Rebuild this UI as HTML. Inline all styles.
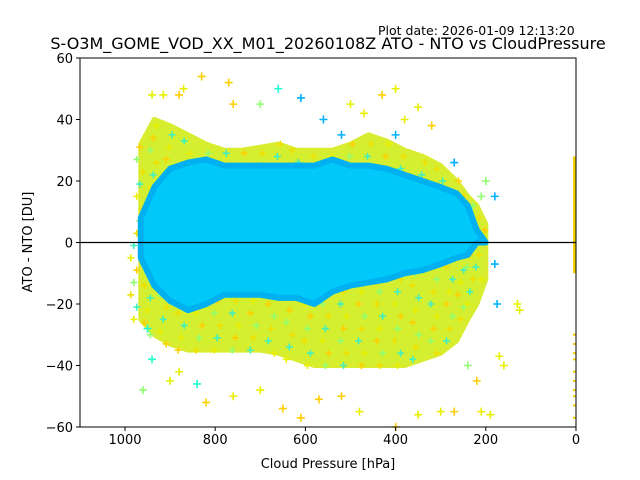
<!DOCTYPE html>
<html><head><meta charset="utf-8"><style>
body{margin:0;background:#fff;}
svg{display:block;font-family:"DejaVu Sans","Liberation Sans",sans-serif;}
</style></head><body>
<svg id="chart" width="640" height="480" viewBox="0 0 640 480">
<rect width="640" height="480" fill="#fff"/>
<text x="378" y="35" font-size="12.5">Plot date: 2026-01-09 12:13:20</text>
<text x="328" y="49" font-size="16" text-anchor="middle">S-O3M_GOME_VOD_XX_M01_20260108Z ATO - NTO vs CloudPressure</text>
<g id="plot"></g>
<g id="axes"></g>
<text x="328" y="468" font-size="13" text-anchor="middle">Cloud Pressure [hPa]</text>
<text transform="translate(32,242) rotate(-90)" font-size="13" text-anchor="middle">ATO - NTO [DU]</text>
</svg>
<script>
const binP   =[965,935,900,860,820,780,740,700,660,620,580,540,500,460,420,380,340,300,265,240,220,200];
const envHi  =[ 32, 40, 38, 35, 32, 30, 30, 31, 32, 30, 30, 30, 32, 35, 33, 30, 28, 25, 20, 15, 12,  6];
const coreHi =[  8, 18, 24, 26, 27, 25, 25, 25, 25, 25, 25, 27, 25, 25, 24, 22, 20, 18, 16, 12,  4,  0];
const coreLo =[ -5,-14,-19,-22,-20,-17,-17,-17,-18,-18,-20,-16,-14,-13,-12,-10, -9, -7, -5, -4,  0,  0];
const envLo  =[-25,-30,-33,-35,-35,-35,-35,-35,-36,-38,-40,-40,-40,-40,-40,-40,-38,-36,-32,-25,-20,-12];
const outP   =[940,915,880,830,770,870,760,660,610,700,500,470,400,350,430,380,320,560,520,400,270,210,200,180,960,900,840,820,760,700,650,610,570,520,480,400,350,300,270,210,190,160,130,125,170,220,240,940,880,950,180,175];
const outV   =[ 48, 48, 48, 54, 52, 50, 45, 50, 47, 45, 45, 42, 50, 44, 48, 40, 38, 40, 35, 35, 26, 15, 20, 15,-48,-45,-46,-52,-50,-48,-54,-57,-51,-50,-55,-60,-56,-55,-55,-55,-56,-40,-20,-22,-37,-45,-40,-38,-42,-28, -7,-20];
const outC   =["y","y","o","o","o","y","o","c","b","g","y","y","y","y","o","y","o","b","b","b","b","g","g","b","g","y","c","o","y","y","o","o","o","o","y","o","y","y","o","y","y","y","y","y","y","o","g","c","y","c","b","b"];
const stripV =[28,-10];
const stripOut=[-30,-33,-36,-38,-42,-45,-48,-50,-53,-57];
const xTicks=[1000,800,600,400,200,0];
const yTicks=[60,40,20,0,-20,-40,-60];

const L=80,R=576,T=58,B=427;
const xs=p=>576-p*0.451;
const ys=v=>242.5-v*(B-T)/120;
const NS="http://www.w3.org/2000/svg";
const plot=document.getElementById('plot'), axes=document.getElementById('axes');
const colors={y:"#e8f000",o:"#ffd000",g:"#90ff70",c:"#20ffd0",b:"#00b0ff"};
function mk(tag,attrs,parent){const e=document.createElementNS(NS,tag);for(const k in attrs)e.setAttribute(k,attrs[k]);parent.appendChild(e);return e;}
function plus(x,y,c,parent,s){mk('path',{d:`M${x-s} ${y}H${x+s}M${x} ${y-s}V${y+s}`,stroke:c,'stroke-width':1.6},parent);}
function bandPath(hi,lo){let d='';binP.forEach((p,i)=>{d+=(i?'L':'M')+xs(p)+' '+ys(hi[i]);});for(let i=binP.length-1;i>=0;i--)d+='L'+xs(binP[i])+' '+ys(lo[i]);return d+'Z';}
const env=mk('path',{d:bandPath(envHi,envLo),fill:"#d4ee30",stroke:"#d8ec30",'stroke-width':5,'stroke-linejoin':'round'},plot);


const tex=mk('g',{},plot);


const cyc=["#e8f000","#ffd000","#90ff70","#f0e000","#40f0c0"];
binP.forEach((p,i)=>{for(let v=envLo[i];v<=envHi[i];v+=4){const k=(i*7+Math.round(v))%5;plus(xs(p)+((v*3)%9)-4,ys(v),cyc[(k+5)%5],tex,3.5);}});
const core=mk('path',{d:bandPath(coreHi,coreLo),fill:"#00c8f8",stroke:"#00b0f0",'stroke-width':6,'stroke-linejoin':'round'},plot);


outP.forEach((p,i)=>{const g=mk('g',{},plot);


plus(xs(p),ys(outV[i]),colors[outC[i]],g,4);});
const st=mk('rect',{x:573,y:ys(stripV[0]),width:3,height:ys(stripV[1])-ys(stripV[0]),fill:"#f0d000"},plot);


stripOut.forEach(v=>{const r=mk('rect',{x:573,y:ys(v)-1,width:3,height:2,fill:"#f0d000"},plot);

});
const zl=mk('line',{x1:L,x2:R,y1:ys(0),y2:ys(0),stroke:"#000",'stroke-width':1.2},axes);


const fr=mk('rect',{x:L,y:T,width:R-L,height:B-T,fill:"none",stroke:"#000",'stroke-width':1},axes);


xTicks.forEach(t=>{const x=xs(t);mk('line',{x1:x,x2:x,y1:B,y2:B+4,stroke:"#000"},axes);
const tx=mk('text',{x:x,y:B+17,'font-size':13,'text-anchor':'middle'},axes);tx.textContent=t;

});
yTicks.forEach(t=>{const y=ys(t);mk('line',{x1:L-4,x2:L,y1:y,y2:y,stroke:"#000"},axes);
const tx=mk('text',{x:L-7,y:y+5,'font-size':13,'text-anchor':'end'},axes);tx.textContent=(t<0?'\u2212'+(-t):t);

});
</script>
</body></html>
